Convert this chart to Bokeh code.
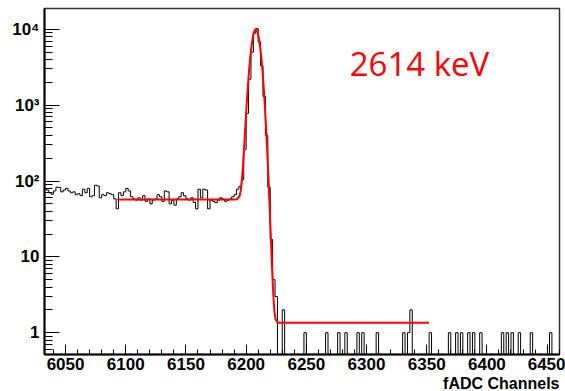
from bokeh.plotting import figure
from bokeh.models import Label, Range1d, FixedTicker, Title
from bokeh.embed import file_html
from bokeh.resources import INLINE

# ---------------- data ----------------
bin_start = 6032
bin_width = 2

# bins 6032 .. 6194 (flat Compton background)
counts_background = [80, 76, 70, 67, 74, 83, 82, 72, 76, 80,
                     74, 70, 72, 66, 68, 64, 78, 70, 80, 62,
                     64, 88, 86, 60, 66, 64, 70, 68, 66, 58,
                     43, 70,
                     64, 72, 80, 74, 62, 58, 56, 60, 56, 64,
                     54, 58, 50, 56, 58, 66, 62, 54, 74, 72,
                     50, 56, 48, 58, 62, 70, 64, 58, 56, 60,
                     52, 43, 78, 60, 78, 76, 43, 56, 54, 52,
                     56, 60, 58, 54, 56, 58, 62, 66, 78, 85]
# bins 6196 .. 6224 (full-energy peak)
counts_peak = [105, 260, 780, 2200, 5000, 8900, 10200, 6800, 3300, 1300,
               400, 83, 17, 5, 3]
# bins above 6226: only these are non-empty
tail_channels = [6230, 6248, 6266, 6276, 6282, 6292, 6296, 6308, 6330, 6334,
                 6336, 6352, 6368, 6374, 6378, 6384, 6388, 6394, 6412, 6416,
                 6420, 6426, 6436, 6452]
tail_counts = [2, 1, 1, 1, 1, 1, 1, 1, 1, 1,
               2, 1, 1, 1, 1, 1, 1, 1, 1, 1,
               1, 1, 1, 1]
bin_end = 6460

# fitted function (gaussian on a step background)
fit_x = [6093, 6190, 6192.5, 6194.5, 6195.5, 6196.5, 6197.5, 6198.5, 6199.5, 6200.5,
         6201.5, 6202.5, 6203.5, 6204.5, 6205.5, 6206.5, 6207.5, 6208, 6208.5, 6209.5,
         6210.5, 6211.5, 6212.5, 6213.5, 6214.5, 6215.5, 6216.5, 6217.5, 6218.5, 6219.5,
         6220.5, 6221.5, 6222.5, 6223.5, 6224.5, 6226.5, 6352]
fit_y = [57, 57, 57.5, 63, 74, 102, 168, 308, 581, 1064,
         1840, 2966, 4430, 6080, 7760, 9125, 9900, 10020, 9900, 9120,
         7750, 6065, 4376, 2910, 1783, 1007, 524, 251, 112, 47,
         18.5, 7.3, 3.3, 1.9, 1.5, 1.35, 1.35]

x_ticks = [6050, 6100, 6150, 6200, 6250, 6300, 6350, 6400, 6450]
y_ticks = [1, 10, 100, 1000, 10000]
y_tick_labels = ["1", "10", "10\u00b2", "10\u00b3", "10\u2074"]
peak_label = "2614 keV"
x_title = "fADC Channels"

# ---------------- build histogram ----------------
n_bins = (bin_end - bin_start) // bin_width
counts = [0] * n_bins
for i, c in enumerate(counts_background + counts_peak):
    counts[i] = c
for ch, c in zip(tail_channels, tail_counts):
    counts[(ch - bin_start) // bin_width] = c

floor = 0.1  # empty bins drop below the axis
hx, hy = [], []
for i, c in enumerate(counts):
    lo = bin_start + i * bin_width
    v = c if c > 0 else floor
    hx += [lo, lo + bin_width]
    hy += [v, v]

# ---------------- figure ----------------
y_lo, y_hi = 0.516, 18810
p = figure(width=565, height=391, output_backend="svg", toolbar_location=None,
           x_range=Range1d(6032.5, 6460.3), y_range=Range1d(y_lo, y_hi),
           y_axis_type="log",
           min_border_left=44, min_border_right=6, min_border_top=8,
           min_border_bottom=0)
p.background_fill_color = "white"
p.border_fill_color = "white"
p.outline_line_color = "#333333"
p.outline_line_width = 1.5
p.xgrid.visible = False
p.ygrid.visible = False

p.line(hx, hy, line_color="black", line_width=1)
p.line(fit_x, fit_y, line_color="#ff0000", line_width=2)

# axes
xminor = list(range(6040, 6461, 10))
p.xaxis.ticker = FixedTicker(ticks=x_ticks, minor_ticks=xminor)
yminor = []
for dec in [0.1, 1, 10, 100, 1000, 10000]:
    for m in range(2, 10):
        yminor.append(m * dec)
p.yaxis.ticker = FixedTicker(ticks=y_ticks, minor_ticks=yminor)
p.yaxis.major_label_overrides = {t: l for t, l in zip(y_ticks, y_tick_labels)}

for ax in (p.xaxis, p.yaxis):
    ax.axis_line_color = "black"
    ax.axis_line_width = 2
    ax.major_tick_line_color = "black"
    ax.minor_tick_line_color = "black"
    ax.major_tick_out = 0
    ax.minor_tick_out = 0
    ax.major_label_text_font = "Liberation Sans"
    ax.major_label_text_font_style = "bold"
    ax.major_label_text_font_size = "17px"
    ax.major_label_text_color = "black"

p.xaxis.major_tick_in = 10
p.xaxis.minor_tick_in = 5
p.xaxis.major_label_standoff = 3
p.yaxis.major_tick_in = 15
p.yaxis.minor_tick_in = 8
p.yaxis.major_label_standoff = 5

p.add_layout(Label(x=6286, y=3500, text=peak_label, text_color="#ff0000",
                   text_font="Open Sans", text_font_size="33px",
                   text_baseline="alphabetic"))
# axis title, right-aligned under the axis
p.add_layout(Title(text=x_title, align="right", text_font="Liberation Sans",
                   text_font_style="bold", text_font_size="16px",
                   text_color="black", standoff=0), "below")

open("out.html", "w").write(file_html(p, INLINE))
